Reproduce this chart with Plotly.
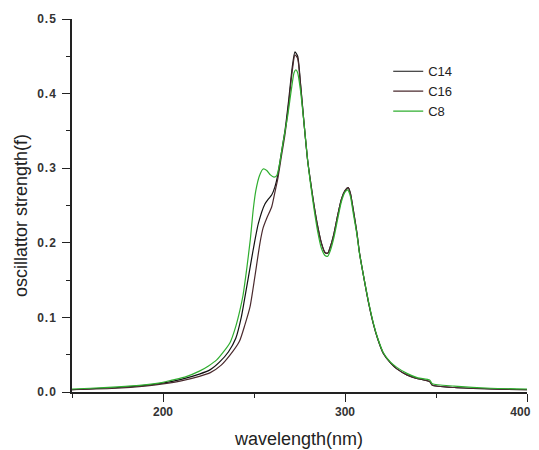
import plotly.graph_objects as go

# wavelength (nm) and oscillator strength for each series
c8_wl = [150, 160, 175, 187, 200, 205, 212, 220, 225, 229.5, 233, 236.8, 240, 242.3, 244, 246, 248,
         249.6, 251, 253, 255, 257, 259, 261, 262.5, 264, 266, 268.5, 270.5, 272, 273, 274, 275.5,
         277.5, 279.5, 281, 283, 285, 287, 289, 290.5, 292, 294, 296, 298, 300, 301.5, 303, 304.5,
         306.5, 308, 310, 313, 315.5, 318, 321, 325, 328.5, 334, 340, 346.5, 348, 360, 380, 400]
c8_f = [0.004, 0.005, 0.007, 0.009, 0.013, 0.016, 0.020, 0.028, 0.035, 0.043, 0.053, 0.066, 0.088,
        0.11, 0.13, 0.165, 0.205, 0.245, 0.27, 0.29, 0.299, 0.297, 0.291, 0.288, 0.29, 0.305, 0.335,
        0.37, 0.405, 0.428, 0.432, 0.428, 0.405, 0.36, 0.31, 0.28, 0.245, 0.215, 0.193, 0.183, 0.182,
        0.19, 0.208, 0.232, 0.255, 0.268, 0.271, 0.262, 0.24, 0.212, 0.185, 0.158, 0.12, 0.093, 0.072,
        0.053, 0.04, 0.033, 0.025, 0.019, 0.016, 0.011, 0.008, 0.005, 0.004]

c14_wl = [150, 175, 190, 200, 210, 220, 226, 231, 236, 240, 243, 244.5, 247, 249.5, 252.4, 256, 258,
          259.7, 261.5, 263, 265, 267, 269, 271, 272.5, 274, 275.5, 277.5, 279.5, 281, 283, 285, 287,
          289, 290.5, 292, 294, 296, 298, 300, 301.8, 303, 304.5, 306.5, 308, 310, 313, 315.5, 318,
          321, 325, 328.5, 334, 340, 346.5, 348, 360, 380, 400]
c14_f = [0.003, 0.006, 0.009, 0.012, 0.017, 0.024, 0.03, 0.04, 0.054, 0.072, 0.1, 0.12, 0.155, 0.19,
         0.226, 0.252, 0.259, 0.264, 0.275, 0.29, 0.32, 0.35, 0.39, 0.435, 0.456, 0.45, 0.415, 0.36,
         0.31, 0.283, 0.25, 0.222, 0.2, 0.187, 0.186, 0.195, 0.213, 0.237, 0.258, 0.27, 0.274, 0.266,
         0.245, 0.214, 0.186, 0.158, 0.119, 0.092, 0.071, 0.052, 0.039, 0.031, 0.023, 0.018, 0.014,
         0.009, 0.006, 0.004, 0.003]

c16_wl = [150, 175, 190, 200, 210, 220, 226, 232, 237, 242, 245, 247.8, 250.5, 253.3, 255, 257,
          259.7, 261.5, 263, 265, 267, 269, 271, 272.5, 274, 275.5, 277.5, 279.5, 281, 283, 285, 287,
          289, 290.5, 292, 294, 296, 298, 300, 301.8, 303, 304.5, 306.5, 308, 310, 313, 315.5, 318,
          321, 325, 328.5, 334, 340, 346.5, 348, 360, 380, 400]
c16_f = [0.003, 0.005, 0.008, 0.011, 0.015, 0.021, 0.026, 0.036, 0.05, 0.068, 0.09, 0.114, 0.155, 0.2,
         0.22, 0.233, 0.248, 0.268, 0.285, 0.315, 0.345, 0.385, 0.43, 0.452, 0.447, 0.413, 0.36,
         0.31, 0.283, 0.25, 0.222, 0.2, 0.187, 0.186, 0.195, 0.213, 0.237, 0.258, 0.27, 0.274, 0.266,
         0.245, 0.214, 0.186, 0.158, 0.119, 0.092, 0.071, 0.052, 0.039, 0.031, 0.023, 0.018, 0.014,
         0.009, 0.006, 0.004, 0.003]

x_ticks = [200, 300, 400]
# trailing figure spaces keep the last label inside the visible page edge
x_tick_text = ["200", "300", "400\u2007\u2007"]
y_ticks = [0.0, 0.1, 0.2, 0.3, 0.4, 0.5]
y_tick_text = ["0\u200a.\u200a0", "0\u200a.\u200a1", "0\u200a.\u200a2", "0\u200a.\u200a3",
               "0\u200a.\u200a4", "0\u200a.\u200a5"]

fig = go.Figure()
fig.add_trace(go.Scatter(x=c14_wl, y=c14_f, name="C14", mode="lines",
                         line=dict(color="#111111", width=1.2, shape="spline", smoothing=0.6)))
fig.add_trace(go.Scatter(x=c16_wl, y=c16_f, name="C16", mode="lines",
                         line=dict(color="#4a2a2e", width=1.2, shape="spline", smoothing=0.6)))
fig.add_trace(go.Scatter(x=c8_wl, y=c8_f, name="C8", mode="lines",
                         line=dict(color="#2fae2f", width=1.2, shape="spline", smoothing=0.6)))

tickfont = dict(family="Arial, Liberation Sans, sans-serif", size=12, color="#333333", weight="bold")
# page body has an 8px default margin, so the figure is sized/offset to compensate
fig.update_layout(
    width=531, height=442,
    margin=dict(l=64, r=12, t=11, b=58),
    paper_bgcolor="white", plot_bgcolor="white",
    font=dict(family="Arial, Liberation Sans, sans-serif", color="#222222"),
    legend=dict(x=0.695, y=0.9, xanchor="left", yanchor="top", bgcolor="rgba(0,0,0,0)",
                font=dict(size=13, color="#222222"), tracegroupgap=0),
    showlegend=True,
    annotations=[
        dict(text="oscillattor strength(f)", xref="paper", yref="paper", x=-0.112, y=0.472,
             xanchor="center", yanchor="middle", textangle=-90, showarrow=False,
             font=dict(size=18, color="#222222")),
        dict(text="wavelength(nm)", xref="paper", yref="paper", x=0.498, y=-0.126,
             xanchor="center", yanchor="middle", showarrow=False,
             font=dict(size=18, color="#222222")),
    ],
)
fig.update_xaxes(
    range=[150, 400], tickvals=x_ticks, ticktext=x_tick_text, ticks="outside", ticklen=8, tickwidth=1.2,
    showline=True, linecolor="#222222", linewidth=1.5, showgrid=False, zeroline=False,
    tickfont=tickfont, tickcolor="#222222", automargin=False, ticklabeloverflow="allow",
    minor=dict(ticks="outside", ticklen=4, tickvals=[150, 250, 350], tickcolor="#222222", showgrid=False),
)
fig.update_yaxes(
    range=[0, 0.5], tickvals=y_ticks, ticktext=y_tick_text, ticks="outside", ticklen=8, tickwidth=1.2,
    showline=True, linecolor="#222222", linewidth=1.5, showgrid=False, zeroline=False,
    tickfont=tickfont, tickcolor="#222222", automargin=False, ticklabelstandoff=4,
    minor=dict(ticks="outside", ticklen=4, tickvals=[0.05, 0.15, 0.25, 0.35, 0.45], tickcolor="#222222", showgrid=False),
)
fig.write_html("out.html")
